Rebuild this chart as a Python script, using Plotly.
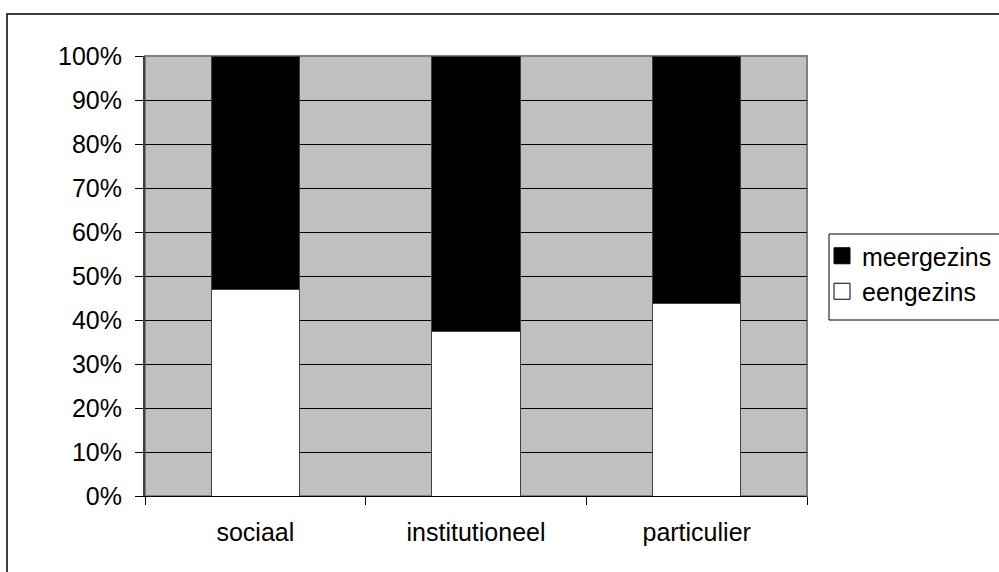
import plotly.graph_objects as go

# Share of dwellings per owner type (percent)
categories = ["sociaal", "institutioneel", "particulier"]
eengezins = [47.0, 37.5, 43.8]
meergezins = [53.0, 62.5, 56.2]
y_ticks = [0, 10, 20, 30, 40, 50, 60, 70, 80, 90, 100]
y_tick_text = [f"{v}%" for v in y_ticks]

FONT = "Arial, Liberation Sans, sans-serif"
W, H = 999, 572
L, R, T, B = 145, 192, 56, 76

fig = go.Figure()

# stacked bars, outlined in dark grey
fig.add_trace(go.Bar(
    x=categories, y=eengezins, name="eengezins",
    marker=dict(color="white", line=dict(color="#404040", width=1)),
    showlegend=False,
))
fig.add_trace(go.Bar(
    x=categories, y=meergezins, name="meergezins",
    marker=dict(color="black", line=dict(color="#404040", width=1)),
    showlegend=False,
))

# legend entries with larger square swatches
fig.add_trace(go.Scatter(
    x=[None], y=[None], mode="markers", name="meergezins",
    marker=dict(symbol="square", size=16, color="black",
                line=dict(color="black", width=1)),
))
fig.add_trace(go.Scatter(
    x=[None], y=[None], mode="markers", name="eengezins",
    marker=dict(symbol="square", size=16, color="white",
                line=dict(color="black", width=1)),
))

pw = W - L - R
ph = H - T - B


def px_x(v):
    return (v - L) / pw


def px_y(v):
    return (H - B - v) / ph


shapes = [
    # frame around the plotting area
    dict(type="rect", xref="paper", yref="paper", x0=0, x1=1, y0=0, y1=1,
         line=dict(color="#808080", width=2), layer="below"),
    # outer chart border (runs off the right and bottom edges)
    dict(type="rect", xref="paper", yref="paper",
         x0=px_x(7), x1=px_x(W + 20), y0=px_y(H + 20), y1=px_y(14),
         line=dict(color="black", width=1.5)),
    # legend box
    dict(type="rect", xref="paper", yref="paper",
         x0=px_x(829), x1=px_x(W + 20), y0=px_y(320), y1=px_y(234),
         line=dict(color="black", width=1), fillcolor="white", layer="below"),
]

fig.update_layout(
    width=W, height=H,
    margin=dict(l=L, r=R, t=T, b=B, autoexpand=False),
    barmode="stack", bargap=0.6,
    paper_bgcolor="white", plot_bgcolor="#C0C0C0",
    font=dict(family=FONT, size=25, color="black"),
    shapes=shapes,
    legend=dict(
        x=px_x(822), xanchor="left",
        y=px_y(233), yanchor="top",
        bgcolor="rgba(0,0,0,0)", borderwidth=0,
        font=dict(family=FONT, size=25, color="black"),
        itemwidth=30, traceorder="normal",
    ),
    xaxis=dict(
        showgrid=False, showline=True, linecolor="black", linewidth=1,
        ticks="outside", tickson="boundaries", ticklen=8, tickcolor="black",
        ticklabelstandoff=14,
    ),
    yaxis=dict(
        range=[0, 100], tickvals=y_ticks, ticktext=y_tick_text,
        showgrid=True, gridcolor="black", gridwidth=1,
        showline=True, linecolor="#404040", linewidth=2,
        ticks="outside", ticklen=8, tickcolor="black",
        ticklabelstandoff=8, zeroline=False,
    ),
)

fig.write_html("out.html")
